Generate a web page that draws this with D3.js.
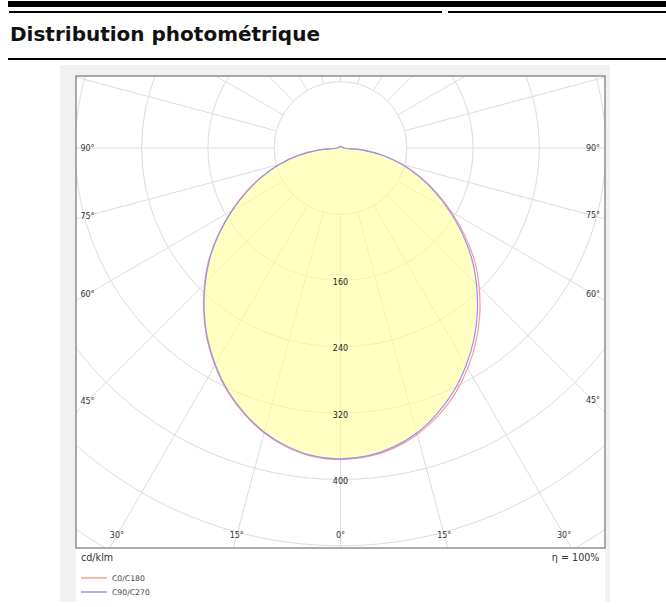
<!DOCTYPE html>
<html>
<head>
<meta charset="utf-8">
<script src="https://cdn.jsdelivr.net/npm/d3@7"></script>
<style>
  body { margin: 0; background: #fff; }
  svg { display: block; }
</style>
</head>
<body>
<div id="chart"></div>
<script>
// intensity values in cd/klm, by gamma angle (0 = straight down)
const angles = [0, 5, 10, 15, 20, 25, 30, 35, 40, 45, 50, 55, 60, 65, 70, 75, 80, 85, 90, 180];
const c0   = [376, 374, 368, 358, 344, 327, 307, 285, 261.5, 236.5, 211, 182.5, 154.5, 128, 102.5, 78, 52.5, 26, 4, 2];
const c180 = [376, 374, 367, 356, 341, 323.5, 303, 281, 257, 232, 206.5, 179, 152, 126, 101, 77, 52, 26, 4, 2];
const c90  = [375, 373, 366.5, 356, 341, 323.5, 303, 281, 257, 232, 206.5, 179, 152, 126, 101, 77, 52, 26, 4, 2];
const c270 = [375, 373, 366, 355, 340, 322.5, 302, 280, 256, 231, 205.5, 178, 151, 125, 100.5, 76.5, 51.5, 25.5, 4, 2];

const ringValues = [80, 160, 240, 320, 400, 480, 560, 640];
const ringLabels = [160, 240, 320, 400];
const spokeAngles = d3.range(0, 360, 15);
const sideLabels = [90, 75, 60, 45];
const bottomLabels = [30, 15, 0];
const legendNames = ['C0/C180', 'C90/C270'];

const width = 666;
const height = 607;
const box = {left: 76, top: 76, right: 605, bottom: 548};
const cx = 340.5;
const cy = 148;
const redColor = '#ff9a9a';
const blueColor = '#9494f0';
const gridColor = '#dcdcdc';
const font = '"DejaVu Sans", Verdana, sans-serif';

const rScale = d3.scaleLinear().domain([0, 80]).range([0, 66.3]);
const rad = d => d * Math.PI / 180;

const svg = d3.select('#chart').append('svg')
    .attr('width', width)
    .attr('height', height);

// page header
svg.append('rect').attr('x', 8).attr('y', 1).attr('width', width - 8).attr('height', 6).attr('fill', '#000');
svg.append('rect').attr('x', 9).attr('y', 11).attr('width', 433).attr('height', 2).attr('fill', '#000');
svg.append('rect').attr('x', 448).attr('y', 11).attr('width', width - 448).attr('height', 2).attr('fill', '#000');
svg.append('text')
    .attr('x', 10)
    .attr('y', 41)
    .style('font-family', font)
    .style('font-weight', 'bold')
    .style('font-size', '20px')
    .attr('fill', '#111')
    .text('Distribution photométrique');
svg.append('rect').attr('x', 8).attr('y', 58).attr('width', width - 8).attr('height', 2).attr('fill', '#000');

// grey frame
svg.append('rect').attr('x', 60).attr('y', 65).attr('width', 550).attr('height', 537).attr('fill', '#f1f1f1');
svg.append('rect').attr('x', box.left).attr('y', box.top)
    .attr('width', box.right - box.left).attr('height', 602 - box.top).attr('fill', '#fff');

svg.append('clipPath').attr('id', 'plotclip')
  .append('rect')
    .attr('x', box.left).attr('y', box.top)
    .attr('width', box.right - box.left).attr('height', box.bottom - box.top);

const g = svg.append('g').attr('clip-path', 'url(#plotclip)');
const p = g.append('g').attr('transform', `translate(${cx},${cy})`);

// grid rings
p.selectAll('.ring')
    .data(ringValues)
    .join('circle')
    .attr('class', 'ring')
    .attr('r', d => rScale(d))
    .attr('fill', 'none')
    .attr('stroke', gridColor)
    .attr('stroke-width', 1);

// spokes, starting at the first ring
p.selectAll('.spoke')
    .data(spokeAngles)
    .join('line')
    .attr('class', 'spoke')
    .attr('x1', d => rScale(80) * Math.sin(rad(d)))
    .attr('y1', d => rScale(80) * Math.cos(rad(d)))
    .attr('x2', d => rScale(720) * Math.sin(rad(d)))
    .attr('y2', d => rScale(720) * Math.cos(rad(d)))
    .attr('stroke', gridColor)
    .attr('stroke-width', 1);

// closed curve: left half (180 -> 0), then right half (5 -> 90); 0 and 180 are shared
const curvePoints = (right, left) => {
    const pts = [];
    const n = angles.length;
    for (let i = n - 1; i >= 0; i--) pts.push([Math.PI + rad(angles[i]), rScale(left[i])]);
    for (let i = 1; i < n - 1; i++) pts.push([Math.PI - rad(angles[i]), rScale(right[i])]);
    return pts;
};

const radial = d3.lineRadial()
    .angle(d => d[0])
    .radius(d => d[1])
    .curve(d3.curveCatmullRomClosed.alpha(0.5));

p.append('path')
    .attr('d', radial(curvePoints(c90, c270)))
    .attr('fill', '#ffff99')
    .attr('fill-opacity', 0.6)
    .attr('stroke', 'none');

p.append('path')
    .attr('d', radial(curvePoints(c0, c180)))
    .attr('fill', 'none')
    .attr('stroke', redColor)
    .attr('stroke-width', 1.2);

p.append('path')
    .attr('d', radial(curvePoints(c90, c270)))
    .attr('fill', 'none')
    .attr('stroke', blueColor)
    .attr('stroke-width', 1.2);

// value labels down the 0 axis
p.selectAll('.rlabel')
    .data(ringLabels)
    .join('text')
    .attr('class', 'rlabel')
    .attr('x', 0)
    .attr('y', d => rScale(d) + 1.5)
    .attr('dy', '0.35em')
    .attr('text-anchor', 'middle')
    .style('font-family', font)
    .style('font-size', '8px')
    .attr('fill', '#222')
    .text(d => d);

// angle labels placed where each spoke meets an inset box
const inset = {left: box.left + 11.5, right: box.right - 12, bottom: box.bottom - 12.7};
const angleLabel = (a, side) => {
    const s = Math.sin(rad(a)) * side, c = Math.cos(rad(a));
    const tx = s < 0 ? (inset.left - cx) / s : s > 0 ? (inset.right - cx) / s : Infinity;
    const ty = c > 1e-6 ? (inset.bottom - cy) / c : Infinity;
    const t = Math.min(tx, ty);
    return {x: cx + t * s, y: cy + t * c, text: a + '°'};
};
const angleData = [];
sideLabels.concat(bottomLabels).forEach(a => {
    angleData.push(angleLabel(a, -1));
    if (a !== 0) angleData.push(angleLabel(a, 1));
});

svg.selectAll('.alabel')
    .data(angleData)
    .join('text')
    .attr('class', 'alabel')
    .attr('x', d => d.x)
    .attr('y', d => d.y)
    .attr('dy', '0.35em')
    .attr('text-anchor', 'middle')
    .style('font-family', font)
    .style('font-size', '8px')
    .attr('fill', '#333')
    .text(d => d.text);

// plot border
svg.append('rect')
    .attr('x', box.left).attr('y', box.top)
    .attr('width', box.right - box.left).attr('height', box.bottom - box.top)
    .attr('fill', 'none')
    .attr('stroke', '#8f8f8f')
    .attr('stroke-width', 1.5);

svg.append('text')
    .attr('x', 81)
    .attr('y', 558)
    .attr('dy', '0.35em')
    .style('font-family', font)
    .style('font-size', '9.6px')
    .attr('fill', '#333')
    .text('cd/klm');

svg.append('text')
    .attr('x', 599.5)
    .attr('y', 558)
    .attr('dy', '0.35em')
    .attr('text-anchor', 'end')
    .style('font-family', font)
    .style('font-size', '9.6px')
    .attr('fill', '#333')
    .text('η = 100%');

// legend
const legend = svg.selectAll('.legend')
    .data(legendNames)
    .join('g')
    .attr('class', 'legend')
    .attr('transform', (d, i) => `translate(81,${578 + i * 14})`);

legend.append('line')
    .attr('x1', 0).attr('x2', 26)
    .attr('stroke', (d, i) => i === 0 ? redColor : blueColor)
    .attr('stroke-width', 1.5);

legend.append('text')
    .attr('x', 31)
    .attr('dy', '0.35em')
    .style('font-family', font)
    .style('font-size', '7.7px')
    .attr('fill', '#444')
    .text(d => d);
</script>
</body>
</html>
